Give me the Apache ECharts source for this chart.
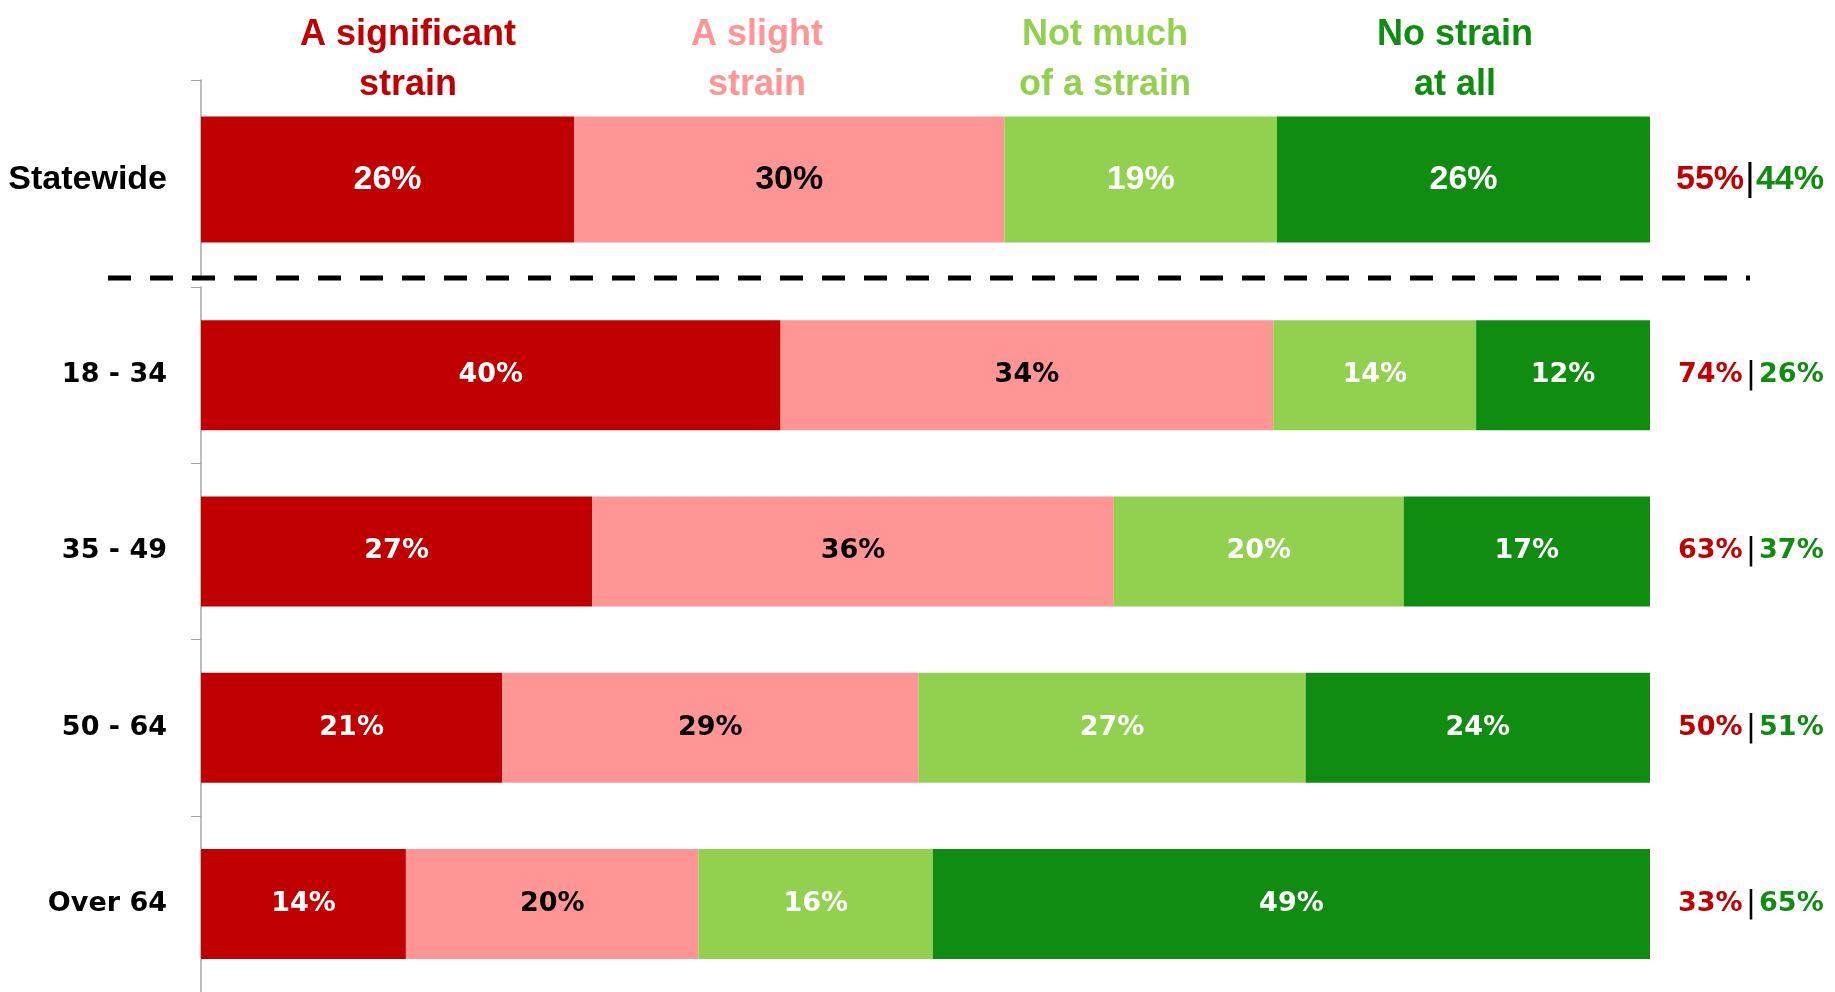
<!DOCTYPE html>
<html>
<head>
<meta charset="utf-8">
<script src="https://cdn.jsdelivr.net/npm/echarts@6/dist/echarts.min.js"></script>
<style>html,body{margin:0;padding:0;background:#fff}#c{width:1835px;height:992px}</style>
</head>
<body>
<div id="c"></div>
<script>
// ---- data ----
var topCategories = ['Statewide'];
var ageCategories = ['18 - 34', '35 - 49', '50 - 64', 'Over 64'];
var seriesNames = ['A significant\nstrain', 'A slight\nstrain', 'Not much\nof a strain', 'No strain\nat all'];
// rows: Statewide, 18-34, 35-49, 50-64, Over 64
var significant = [26, 40, 27, 21, 14];
var slight      = [30, 34, 36, 29, 20];
var notMuch     = [19, 14, 20, 27, 16];
var noStrain    = [26, 12, 17, 24, 49];
var strainTotal   = [55, 74, 63, 50, 33];
var noStrainTotal = [44, 26, 37, 51, 65];

var colors = ['#C00000', '#FF9595', '#92D050', '#108C10'];
var labelColors = ['#ffffff', '#000000', '#ffffff', '#ffffff'];
var narrow = '"Liberation Sans Narrow", "Liberation Sans", sans-serif';
var verd = '"DejaVu Sans", sans-serif';

var raw = [significant, slight, notMuch, noStrain];
var rowTotals = significant.map(function (v, i) { return significant[i] + slight[i] + notMuch[i] + noStrain[i]; });

function seriesFor(gridIdx, rows, font, fsize, barW) {
  return raw.map(function (arr, s) {
    return {
      type: 'bar', name: seriesNames[s], stack: 'g' + gridIdx,
      xAxisIndex: gridIdx, yAxisIndex: gridIdx * 2,
      barWidth: barW,
      itemStyle: { color: colors[s] },
      label: {
        show: true, position: 'inside', color: labelColors[s],
        fontFamily: font, fontWeight: 'bold', fontSize: fsize,
        formatter: function (p) { return arr[rows[p.dataIndex]] + '%'; }
      },
      data: rows.map(function (r) { return { value: arr[r] / rowTotals[r] * 100 }; })
    };
  });
}

function rightLabel(rows, font, fsize, pad, margin) {
  return {
    show: true, margin: margin, align: 'left', fontFamily: font, fontWeight: 'bold', fontSize: fsize,
    formatter: function (v, i) {
      var r = rows[i];
      return '{r|' + strainTotal[r] + '%}{s||}{g|' + noStrainTotal[r] + '%}';
    },
    rich: {
      r: { color: '#C00000', fontFamily: font, fontWeight: 'bold', fontSize: fsize },
      s: { color: '#000000', fontFamily: font, fontWeight: 'normal', fontSize: fsize + 4, padding: [0, pad] },
      g: { color: '#108C10', fontFamily: font, fontWeight: 'bold', fontSize: fsize }
    }
  };
}

var axisLineStyle = { show: true, lineStyle: { color: '#A6A6A6', width: 1.5 } };

var chart = echarts.init(document.getElementById('c'));
var headerX = [408, 757, 1105, 1455];
var option = {
  animation: false,
  grid: [
    { left: 201, right: 185, top: 80, height: 199 },
    { left: 201, right: 185, top: 287, height: 707 }
  ],
  xAxis: [
    { type: 'value', gridIndex: 0, min: 0, max: 100, show: false },
    { type: 'value', gridIndex: 1, min: 0, max: 100, show: false }
  ],
  yAxis: [
    { type: 'category', gridIndex: 0, inverse: true, data: topCategories,
      axisLine: axisLineStyle, axisTick: { show: true, length: 10, lineStyle: { color: '#A6A6A6' } },
      axisLabel: { margin: 34, color: '#000', fontFamily: narrow, fontWeight: 'bold', fontSize: 34 } },
    { type: 'category', gridIndex: 0, inverse: true, position: 'right', data: topCategories,
      axisLine: { show: false }, axisTick: { show: false }, axisLabel: rightLabel([0], narrow, 34, 1, 26) },
    { type: 'category', gridIndex: 1, inverse: true, data: ageCategories,
      axisLine: axisLineStyle, axisTick: { show: true, length: 10, lineStyle: { color: '#A6A6A6' } },
      axisLabel: { margin: 34, color: '#000', fontFamily: verd, fontWeight: 'bold', fontSize: 27 } },
    { type: 'category', gridIndex: 1, inverse: true, position: 'right', data: ageCategories,
      axisLine: { show: false }, axisTick: { show: false }, axisLabel: rightLabel([1, 2, 3, 4], verd, 27, 3, 28) }
  ],
  graphic: [
    { type: 'line', shape: { x1: 108, y1: 278, x2: 1750, y2: 278 },
      style: { stroke: '#000', lineWidth: 5, lineDash: [23, 19] }, z: 100 }
  ].concat(seriesNames.map(function (n, i) {
    return { type: 'text', x: headerX[i], y: 60,
      style: { text: n, fill: colors[i], font: 'bold 36px ' + narrow, align: 'center', verticalAlign: 'middle', lineHeight: 50 } };
  })),
  series: seriesFor(0, [0], narrow, 34, 126).concat(seriesFor(1, [1, 2, 3, 4], verd, 27, 110))
};
chart.setOption(option);
</script>
</body>
</html>
